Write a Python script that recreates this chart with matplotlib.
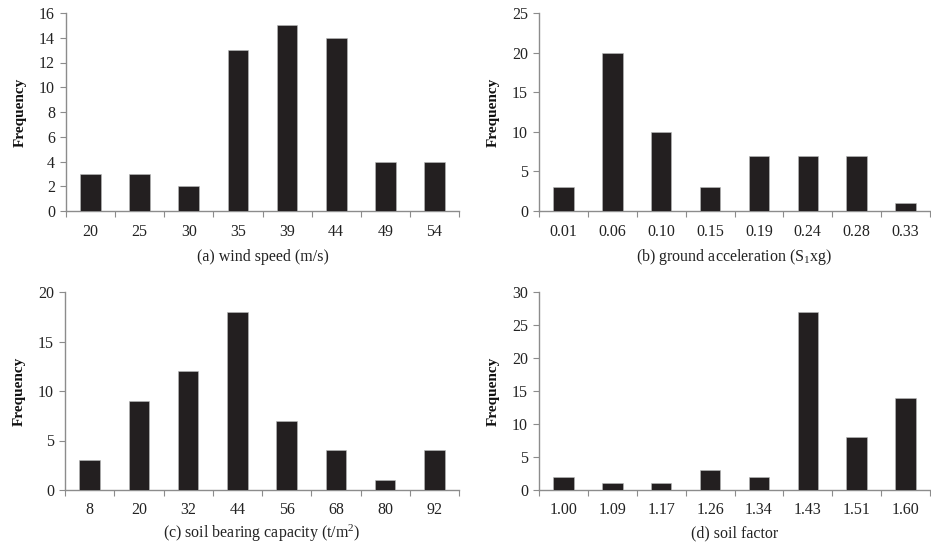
import matplotlib
matplotlib.use('Agg')
import matplotlib.pyplot as plt
import numpy as np

plt.rcParams['font.family'] = ['Liberation Serif', 'DejaVu Serif']
plt.rcParams['font.size'] = 11.5
plt.rcParams['mathtext.fontset'] = 'custom'
plt.rcParams['mathtext.rm'] = 'Liberation Serif'
plt.rcParams['mathtext.it'] = 'Liberation Serif:italic'

wind_labels = ['20', '25', '30', '35', '39', '44', '49', '54']
wind_freq = [3, 3, 2, 13, 15, 14, 4, 4]

accel_labels = ['0.01', '0.06', '0.10', '0.15', '0.19', '0.24', '0.28', '0.33']
accel_freq = [3, 20, 10, 3, 7, 7, 7, 1]

soil_cap_labels = ['8', '20', '32', '44', '56', '68', '80', '92']
soil_cap_freq = [3, 9, 12, 18, 7, 4, 1, 4]

soil_fac_labels = ['1.00', '1.09', '1.17', '1.26', '1.34', '1.43', '1.51', '1.60']
soil_fac_freq = [2, 1, 1, 3, 2, 27, 8, 14]

panels = [
    (wind_labels, wind_freq, 16, 2, '(a) wind speed (m/s)'),
    (accel_labels, accel_freq, 25, 5, r'(b) ground acceleration (S$_\mathrm{1}$xg)'),
    (soil_cap_labels, soil_cap_freq, 20, 5, r'(c) soil bearing capacity (t/m$^\mathrm{2}$)'),
    (soil_fac_labels, soil_fac_freq, 30, 5, '(d) soil factor'),
]

W, H = 931, 545
# axes boxes in pixels: left, top, right, bottom
boxes = [
    (66, 13, 459, 211),
    (539, 13, 930, 211),
    (65, 292, 459, 490),
    (539, 292, 930, 490),
]
xlabel_y = [257, 257, 533, 533]  # centre of x-axis caption, pixels from top

fig = plt.figure(figsize=(W / 100, H / 100), dpi=100)
spine_col = '#8c8c8c'
bar_col = '#231f20'

for (labels, freq, ymax, ystep, xlabel), (l, t, r, b), ly in zip(panels, boxes, xlabel_y):
    ax = fig.add_axes([l / W, 1 - b / H, (r - l) / W, (b - t) / H])
    x = np.arange(len(labels))
    ax.bar(x, freq, width=0.42, color=bar_col, edgecolor='#bbbbbb', linewidth=0.4, zorder=3)
    ax.set_xlim(-0.5, len(labels) - 0.5)
    ax.set_ylim(0, ymax)
    ax.set_yticks(np.arange(0, ymax + 1, ystep))
    ax.set_xticks(x)
    ax.set_xticklabels(labels)
    ax.set_xticks(np.arange(-0.5, len(labels)), minor=True)
    ax.tick_params(axis='x', which='major', length=0, pad=9, colors='#222222')
    ax.tick_params(axis='x', which='minor', length=4, width=0.8, color=spine_col, direction='out')
    ax.tick_params(axis='y', length=4, width=0.8, color=spine_col, labelcolor='#222222', pad=4)
    for s in ['top', 'right']:
        ax.spines[s].set_visible(False)
    for s in ['left', 'bottom']:
        ax.spines[s].set_color(spine_col)
        ax.spines[s].set_linewidth(1.0)
    ax.set_ylabel('Frequency', fontweight='bold', fontsize=11, labelpad=9, color='#111111')
    ax.set_xlabel(xlabel, color='#222222', va='center')
    ax.xaxis.set_label_coords((l + r) / 2 / W, 1 - ly / H, transform=fig.transFigure)

fig.savefig('out.png', dpi=100)
